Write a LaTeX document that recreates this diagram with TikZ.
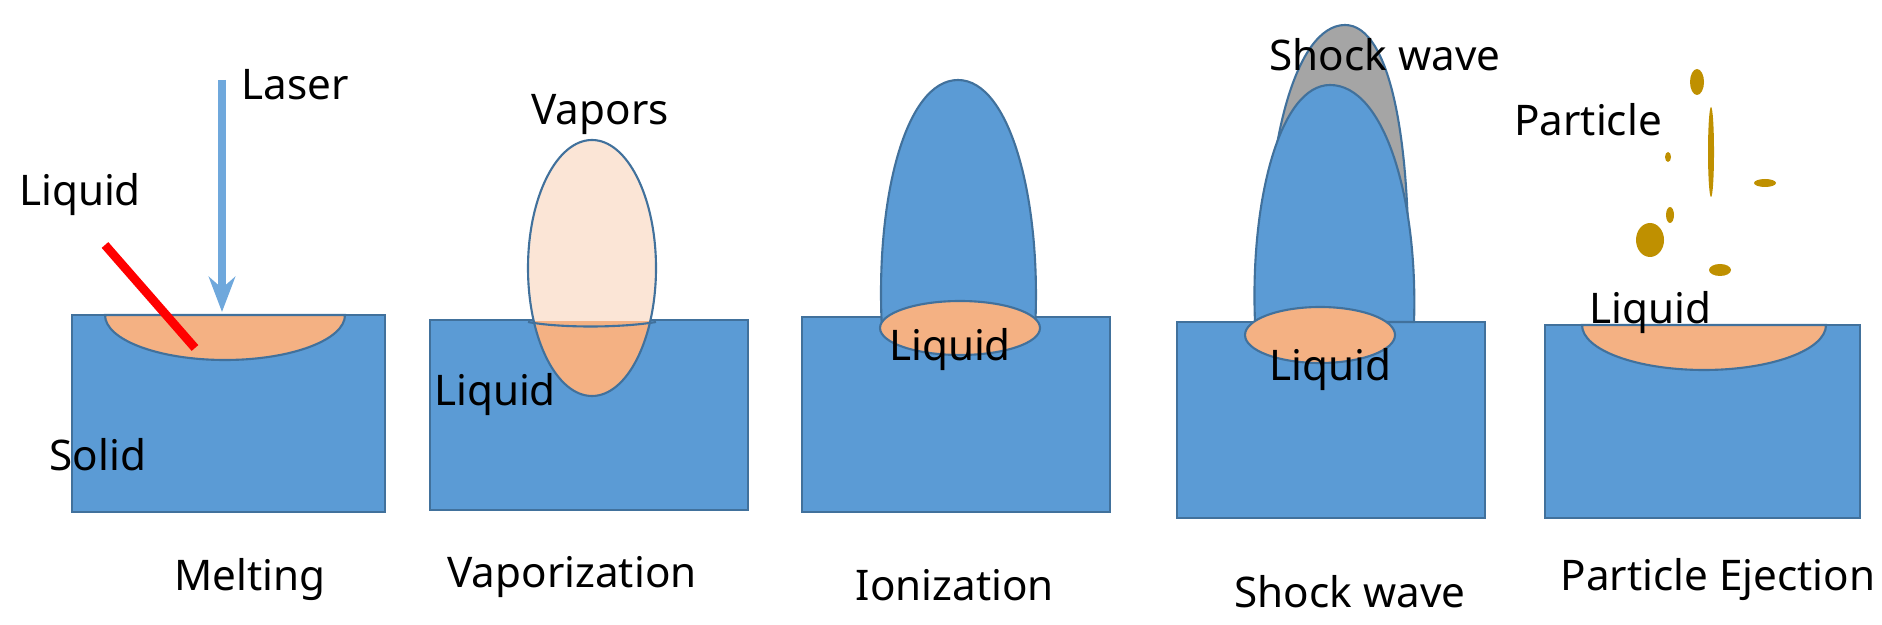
\documentclass[tikz,border=0pt]{standalone}
\usepackage{fontspec}
\setmainfont{Noto Sans}
\usetikzlibrary{arrows.meta}
\begin{document}
\begin{tikzpicture}[x=0.01cm,y=-0.01cm,
 solid/.style={fill=blueA,draw=blueB,line width=0.6pt},
 liq/.style={fill=orangeA,draw=blueB,line width=0.6pt},
 part/.style={fill=goldA,draw=none},
 lbl/.style={font=\fontsize{12}{14}\selectfont,inner sep=0pt}]
\definecolor{blueA}{HTML}{5B9BD5}
\definecolor{blueB}{HTML}{41719C}
\definecolor{orangeA}{HTML}{F4B183}
\definecolor{vap}{HTML}{FBE5D6}
\definecolor{goldA}{HTML}{BF9000}
\definecolor{grayA}{HTML}{A5A5A5}
\definecolor{laser}{HTML}{6FA8DC}
\useasboundingbox (0,0) rectangle (1882,625);
% Panel 1
\path[solid] (72,315) rectangle (385,512);
\path[liq] (105,315) arc[start angle=180,end angle=0,x radius=120,y radius=45] -- cycle;
\draw[red,line width=2.5pt] (105,245) -- (195,348);
\coordinate (ls) at (222,80); \coordinate (le) at (222,312);
\draw[laser,line width=2pt,-{Stealth[length=10pt]}] (ls) -- (le);
\node[lbl] (t1) at (295,85) {Laser};
\node[lbl] (t2) at (80,195) {Liquid};
\node[lbl] (t3) at (98,455) {Solid};
\node[lbl] (t4) at (250,580) {Melting};
% Panel 2
\path[solid] (430,320) rectangle (748,510);
\begin{scope}
\clip (500,0) rectangle (700,322);
\path[fill=vap,draw=blueB,line width=0.6pt] (592,268) ellipse[x radius=64,y radius=128];
\end{scope}
\begin{scope}
\clip (500,322) rectangle (700,420);
\path[liq] (592,268) ellipse[x radius=64,y radius=128];
\end{scope}
\draw[blueB,line width=0.6pt] (528,322) .. controls (560,328) and (620,328) .. (656,322);
\node[lbl] (t5) at (600,115) {Vapors};
\node[lbl] (t6) at (495,395) {Liquid};
\node[lbl] (t7) at (572,577) {Vaporization};
% Panel 3
\path[solid] (802,317) rectangle (1110,512);
\path[solid] (882,330) .. controls (875,200) and (905,80) .. (958,80) .. controls (1010,80) and (1042,200) .. (1035,330) -- cycle;
\path[liq] (960,328) ellipse[x radius=80,y radius=27];
\node[lbl] (t8) at (950,350) {Liquid};
\node[lbl] (t9) at (955,585) {Ionization};
% Panel 4
\path[solid] (1177,322) rectangle (1485,518);
\path[fill=grayA,draw=blueB,line width=0.6pt] (1268,300) .. controls (1262,150) and (1295,25) .. (1345,25) .. controls (1390,25) and (1412,140) .. (1408,300) -- cycle;
\path[solid] (1255,322) .. controls (1250,200) and (1280,85) .. (1330,85) .. controls (1385,85) and (1418,200) .. (1414,322) -- cycle;
\path[liq] (1320,335) ellipse[x radius=75,y radius=28];
\node[lbl] (t10) at (1385,55) {Shock wave};
\node[lbl] (t11) at (1330,370) {Liquid};
\node[lbl] (t12) at (1350,592) {Shock wave};
% Panel 5
\path[solid] (1545,325) rectangle (1860,518);
\path[liq] (1582,325) arc[start angle=180,end angle=0,x radius=122,y radius=45] -- cycle;
\path[part] (1697,82) ellipse[x radius=7,y radius=13];
\path[part] (1711,152) ellipse[x radius=3,y radius=45];
\path[part] (1668,157) ellipse[x radius=3,y radius=5];
\path[part] (1765,183) ellipse[x radius=11,y radius=4];
\path[part] (1650,240) ellipse[x radius=14,y radius=17];
\path[part] (1670,215) ellipse[x radius=4,y radius=8];
\path[part] (1720,270) ellipse[x radius=11,y radius=6];
\node[lbl] (t13) at (1588,120) {Particle};
\node[lbl] (t14) at (1650,313) {Liquid};
\node[lbl] (t15) at (1718,580) {Particle Ejection};
\end{tikzpicture}
\end{document}
